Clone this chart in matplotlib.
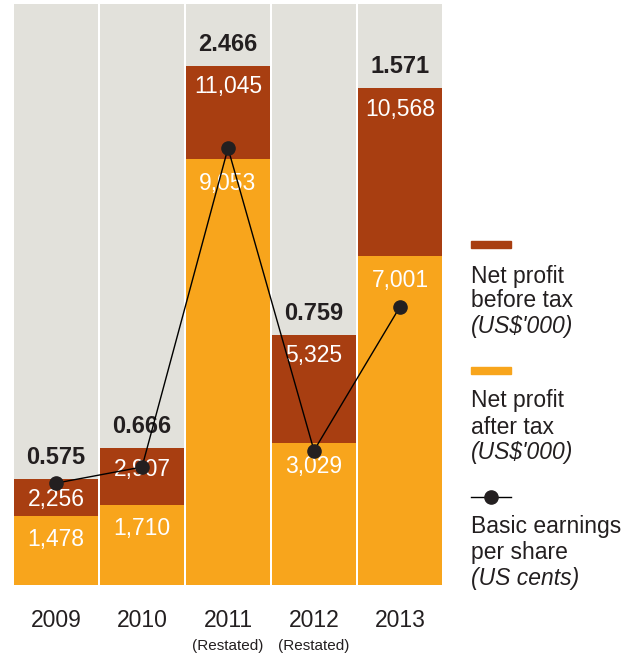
import matplotlib
matplotlib.use("Agg")
import matplotlib.pyplot as plt
from matplotlib.lines import Line2D
from matplotlib.patches import Rectangle

plt.rcParams['font.family'] = ['Liberation Sans', 'DejaVu Sans']

years = ["2009", "2010", "2011", "2012", "2013"]
year_notes = ["", "", "(Restated)", "(Restated)", ""]
profit_before_tax = [2256, 2907, 11045, 5325, 10568]
profit_after_tax = [1478, 1710, 9053, 3029, 7001]
eps_cents = [0.575, 0.666, 2.466, 0.759, 1.571]

GREY = "#E2E1DB"
DARK = "#A83E11"
LIGHT = "#F8A51C"
INK = "#231F20"

W, H = 632, 659
fig = plt.figure(figsize=(W / 100, H / 100), dpi=100)
ax = fig.add_axes([13 / W, (H - 585) / H, 430 / W, 581 / H])

ymax = 12360
x = list(range(len(years)))
bw = 0.977

ax.bar(x, [ymax] * len(x), width=bw, color=GREY, zorder=1)
ax.bar(x, profit_before_tax, width=bw, color=DARK, zorder=2)
ax.bar(x, profit_after_tax, width=bw, color=LIGHT, zorder=3)
ax.set_xlim(-0.5, 4.5)
ax.set_ylim(0, ymax)
ax.axis("off")

for xi, v in zip(x, profit_before_tax):
    ax.annotate(f"{v:,}", (xi, v), xytext=(0, -15), textcoords="offset points",
                ha="center", va="center", color="white", fontsize=16.5, zorder=6)
for xi, v in zip(x, profit_after_tax):
    ax.annotate(f"{v:,}", (xi, v), xytext=(0, -17.5), textcoords="offset points",
                ha="center", va="center", color="white", fontsize=16.5, zorder=6)
for xi, v, e in zip(x, profit_before_tax, eps_cents):
    ax.annotate(f"{e:.3f}", (xi, v), xytext=(0, 15.5), textcoords="offset points",
                ha="center", va="center", color=INK, fontsize=17,
                fontweight="bold", zorder=6)

ax2 = ax.twinx()
ax2.set_ylim(0, 3.28)
ax2.set_xlim(-0.5, 4.5)
ax2.axis("off")
ax2.plot(x, eps_cents, color="black", lw=1.0, marker="o", markersize=9.5,
         markerfacecolor=INK, markeredgecolor=INK, zorder=7)

for xi, y, note in zip(x, years, year_notes):
    ax.annotate(y, (xi, 0), xytext=(0, -25.5), textcoords="offset points",
                ha="center", va="center", color=INK, fontsize=16.5,
                annotation_clip=False)
    if note:
        ax.annotate(note, (xi, 0), xytext=(0, -44), textcoords="offset points",
                    ha="center", va="center", color=INK, fontsize=11,
                    annotation_clip=False)

# Legend column on the right
def fx(px):
    return px / W

def fy(py):
    return 1 - py / H

fig.patches.append(Rectangle((fx(471), fy(248)), 40 / W, 7 / H,
                             transform=fig.transFigure, color=DARK))
fig.patches.append(Rectangle((fx(471), fy(374)), 40 / W, 7 / H,
                             transform=fig.transFigure, color=LIGHT))
fig.lines.append(Line2D([fx(471), fx(511)], [fy(497), fy(497)],
                        transform=fig.transFigure, color="black", lw=1.0))
fig.lines.append(Line2D([fx(491)], [fy(497)], transform=fig.transFigure,
                        marker="o", markersize=9.5, color=INK, lw=0))

legend_rows = [
    (276, "Net profit", "normal"), (301, "before tax", "normal"),
    (327, "(US$'000)", "italic"),
    (401, "Net profit", "normal"), (427, "after tax", "normal"),
    (453, "(US$'000)", "italic"),
    (527, "Basic earnings", "normal"), (553, "per share", "normal"),
    (579, "(US cents)", "italic"),
]
for py, txt, style in legend_rows:
    fig.text(fx(471), fy(py), txt, ha="left", va="center", color=INK,
             fontsize=16.5, fontstyle=style)

fig.savefig("out.png", dpi=100, facecolor="white")
